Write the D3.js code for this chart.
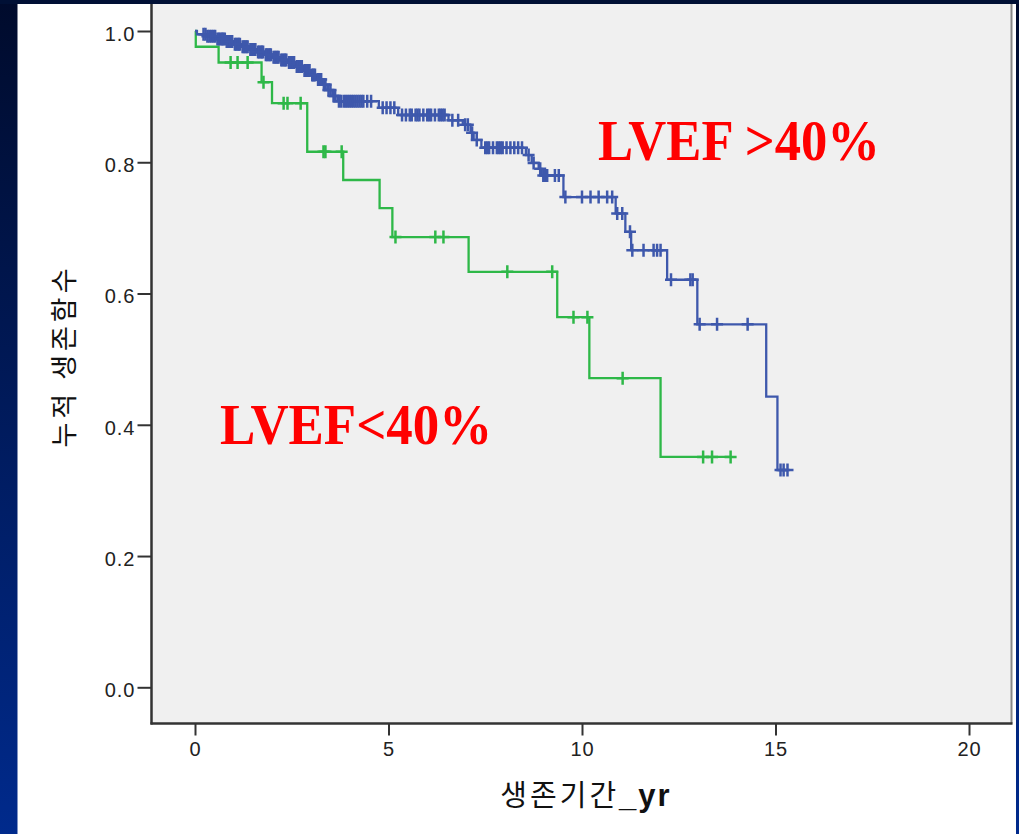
<!DOCTYPE html>
<html>
<head>
<meta charset="utf-8">
<script src="https://d3js.org/d3.v7.min.js"></script>
<style>
  body { margin: 0; background: #001035; overflow: hidden; }
  svg { display: block; }
</style>
</head>
<body>
<div id="chart"></div>
<script>
// Kaplan-Meier steps: [time (yr), survival after the drop]
var highSteps = [
    [0.05, 0.995], [0.3, 0.992], [0.55, 0.988], [0.8, 0.984], [1.0, 0.980],
    [1.2, 0.976], [1.4, 0.972], [1.6, 0.968], [1.8, 0.964], [2.0, 0.960],
    [2.2, 0.956], [2.4, 0.952], [2.6, 0.946], [2.8, 0.940], [3.0, 0.933],
    [3.15, 0.926], [3.3, 0.918], [3.42, 0.910], [3.55, 0.901], [3.68, 0.893],
    [4.75, 0.883], [5.25, 0.872], [6.55, 0.864], [6.92, 0.857], [7.12, 0.845],
    [7.2, 0.834], [7.4, 0.822], [8.55, 0.811], [8.7, 0.799], [8.88, 0.790],
    [8.95, 0.780], [9.52, 0.747], [10.87, 0.722], [11.12, 0.694], [11.27, 0.666],
    [12.2, 0.621], [12.98, 0.553], [14.76, 0.443], [15.05, 0.331]
];
var highCensored = [
    0.22, 0.27, 0.32, 0.37, 0.42, 0.47, 0.52, 0.58, 0.62, 0.66, 0.7, 0.73, 0.77,
    0.82, 0.86, 0.9, 0.93, 0.96, 1.03, 1.06, 1.1, 1.13, 1.16, 1.23, 1.26, 1.3,
    1.33, 1.36, 1.43, 1.46, 1.5, 1.53, 1.56, 1.63, 1.66, 1.7, 1.73, 1.76, 1.83,
    1.86, 1.9, 1.93, 1.96, 2.03, 2.06, 2.1, 2.13, 2.16, 2.23, 2.26, 2.3, 2.33,
    2.36, 2.43, 2.46, 2.5, 2.53, 2.56, 2.63, 2.66, 2.7, 2.73, 2.76, 2.83, 2.86,
    2.9, 2.93, 2.96, 3.03, 3.06, 3.1, 3.18, 3.22, 3.26, 3.33, 3.37, 3.45, 3.5,
    3.58, 3.62, 3.72, 3.78, 3.85, 3.9, 3.95, 4.0, 4.05, 4.1, 4.15, 4.2, 4.25,
    4.3, 4.35, 4.45, 4.55, 4.85, 4.95, 5.05, 5.15, 5.35, 5.45, 5.55, 5.6, 5.7,
    5.75, 5.8, 5.9, 6.0, 6.05, 6.1, 6.2, 6.3, 6.35, 6.4, 6.45, 6.65, 6.8, 6.98,
    7.05, 7.16, 7.28, 7.5, 7.55, 7.6, 7.7, 7.8, 7.85, 7.9, 7.95, 8.05, 8.15,
    8.25, 8.35, 8.45, 8.62, 8.75, 8.92, 9.0, 9.05, 9.1, 9.3, 9.4, 9.57, 10.0,
    10.22, 10.43, 10.65, 10.78, 10.91, 11.04, 11.24, 11.3, 11.59, 11.85, 11.94,
    12.03, 12.3, 12.8, 12.86, 13.04, 13.49, 14.28, 15.13, 15.21, 15.31
];

var lowSteps = [
    [0.02, 0.976], [0.61, 0.952], [1.72, 0.922], [1.99, 0.890], [2.90, 0.816],
    [3.83, 0.773], [4.77, 0.730], [5.10, 0.686], [7.07, 0.633], [9.36, 0.564],
    [10.19, 0.471], [12.03, 0.351]
];
var lowCensored = [
    0.92, 1.10, 1.36, 1.77, 2.29, 2.39, 2.73, 3.32, 3.37, 3.79, 5.18, 6.21, 6.42,
    8.07, 9.23, 9.78, 10.14, 11.05, 13.13, 13.36, 13.84
];

var xTicks = [0, 5, 10, 15, 20];
var yTicks = [0, 0.2, 0.4, 0.6, 0.8, 1.0];
var xTitle = "생존기간";
var xTitleUnit = "_yr";
var yTitle = "누적 생존함수";
var labelHigh = "LVEF >40%";
var labelLow = "LVEF<40%";

var W = 1019, H = 834;
var svg = d3.select("#chart").append("svg")
    .attr("width", W)
    .attr("height", H);

// slide background: navy frame, white panel
var defs = svg.append("defs");
var grad = defs.append("linearGradient")
    .attr("id", "side").attr("x1", 0).attr("y1", 0).attr("x2", 0).attr("y2", 1);
grad.append("stop").attr("offset", "0%").attr("stop-color", "#000b2c");
grad.append("stop").attr("offset", "100%").attr("stop-color", "#002a8c");

svg.append("rect").attr("width", W).attr("height", H).attr("fill", "url(#side)");
svg.append("rect")
    .attr("x", 17.5).attr("y", 0)
    .attr("width", 1016 - 17.5).attr("height", H)
    .attr("fill", "#ffffff");

var plotLeft = 151.5, plotRight = 1011.5, plotBottom = 723.5;

var x = d3.scaleLinear().domain([0, 20]).range([195, 969]),
    y = d3.scaleLinear().domain([0, 1]).range([687.3, 31]);

svg.append("rect")
    .attr("x", plotLeft).attr("y", 0)
    .attr("width", plotRight - plotLeft).attr("height", plotBottom)
    .attr("fill", "#f0f0f0");
svg.append("line")
    .attr("x1", plotRight).attr("x2", plotRight)
    .attr("y1", 0).attr("y2", plotBottom)
    .attr("stroke", "#888").attr("stroke-width", 2);

// axes
var yAxis = svg.append("g")
    .attr("transform", "translate(" + plotLeft + ",0)")
    .call(d3.axisLeft(y).tickValues(yTicks).tickFormat(d3.format(".1f")).tickSize(14).tickPadding(2));
var xAxis = svg.append("g")
    .attr("transform", "translate(0," + plotBottom + ")")
    .call(d3.axisBottom(x).tickValues(xTicks).tickSize(12).tickPadding(6.5));

[yAxis, xAxis].forEach(function (a) {
    a.select(".domain").remove();
    a.selectAll(".tick line").attr("stroke", "#333").attr("stroke-width", 2);
    a.selectAll(".tick text")
        .attr("fill", "#222")
        .style("font-family", "'Liberation Sans', Arial, sans-serif")
        .style("font-size", "20px")
        .style("letter-spacing", "1px");
});
yAxis.selectAll(".tick text").attr("dy", "0.47em");

svg.append("line")
    .attr("x1", plotLeft).attr("x2", plotLeft)
    .attr("y1", 0).attr("y2", plotBottom + 1)
    .attr("stroke", "#333").attr("stroke-width", 2.5);
svg.append("line")
    .attr("x1", plotLeft - 1).attr("x2", plotRight + 1)
    .attr("y1", plotBottom).attr("y2", plotBottom)
    .attr("stroke", "#333").attr("stroke-width", 2.5);

// axis titles
svg.append("text")
    .attr("transform", "translate(74,356) rotate(-90)")
    .attr("text-anchor", "middle")
    .style("font-family", "'Noto Sans CJK KR', sans-serif")
    .style("font-size", "27px")
    .style("letter-spacing", "4px")
    .attr("fill", "#111")
    .text(yTitle);

var xt = svg.append("text")
    .attr("x", 586).attr("y", 806)
    .attr("text-anchor", "middle")
    .attr("fill", "#111");
xt.append("tspan")
    .style("font-family", "'Noto Sans CJK KR', sans-serif")
    .style("font-size", "29px")
    .style("letter-spacing", "3px")
    .text(xTitle);
xt.append("tspan")
    .style("font-family", "'Liberation Sans', Arial, sans-serif")
    .style("font-weight", "bold")
    .style("font-size", "31px")
    .style("letter-spacing", "2px")
    .text(xTitleUnit);

// curves
function survivalAt(steps, t) {
    var s = 1;
    steps.forEach(function (d) { if (d[0] <= t) s = d[1]; });
    return s;
}

function curvePoints(steps, censored) {
    var pts = [[0, 1]].concat(steps);
    var end = d3.max(censored.concat(steps.map(function (d) { return d[0]; })));
    pts.push([end, steps[steps.length - 1][1]]);
    return pts;
}

var line = d3.line()
    .x(function (d) { return x(d[0]); })
    .y(function (d) { return y(d[1]); })
    .curve(d3.curveStepAfter);

var groups = [
    { steps: lowSteps, censored: lowCensored, color: "#2eb848" },
    { steps: highSteps, censored: highCensored, color: "#3e58ac" }
];

groups.forEach(function (g) {
    var grp = svg.append("g");
    grp.append("path")
        .attr("d", line(curvePoints(g.steps, g.censored)))
        .attr("fill", "none")
        .attr("stroke", g.color)
        .attr("stroke-width", 2.3);
    grp.selectAll(".cens")
        .data(g.censored)
        .enter().append("path")
        .attr("class", "cens")
        .attr("d", function (t) {
            var cx = x(t), cy = y(survivalAt(g.steps, t));
            return "M" + (cx - 6) + "," + cy + "H" + (cx + 6) +
                "M" + cx + "," + (cy - 6.5) + "V" + (cy + 6.5);
        })
        .attr("fill", "none")
        .attr("stroke", g.color)
        .attr("stroke-width", 2.5);
});

// group labels
svg.append("text")
    .attr("x", 598).attr("y", 160)
    .attr("textLength", 282)
    .attr("lengthAdjust", "spacingAndGlyphs")
    .style("font-family", "'Liberation Serif', 'Times New Roman', serif")
    .style("font-weight", "bold")
    .style("font-size", "56px")
    .attr("fill", "#ff0000")
    .text(labelHigh);
svg.append("text")
    .attr("x", 220).attr("y", 444)
    .attr("textLength", 272)
    .attr("lengthAdjust", "spacingAndGlyphs")
    .style("font-family", "'Liberation Serif', 'Times New Roman', serif")
    .style("font-weight", "bold")
    .style("font-size", "56px")
    .attr("fill", "#ff0000")
    .text(labelLow);

// navy band across the top
svg.append("rect").attr("width", W).attr("height", 4).attr("fill", "#001035");
</script>
</body>
</html>
